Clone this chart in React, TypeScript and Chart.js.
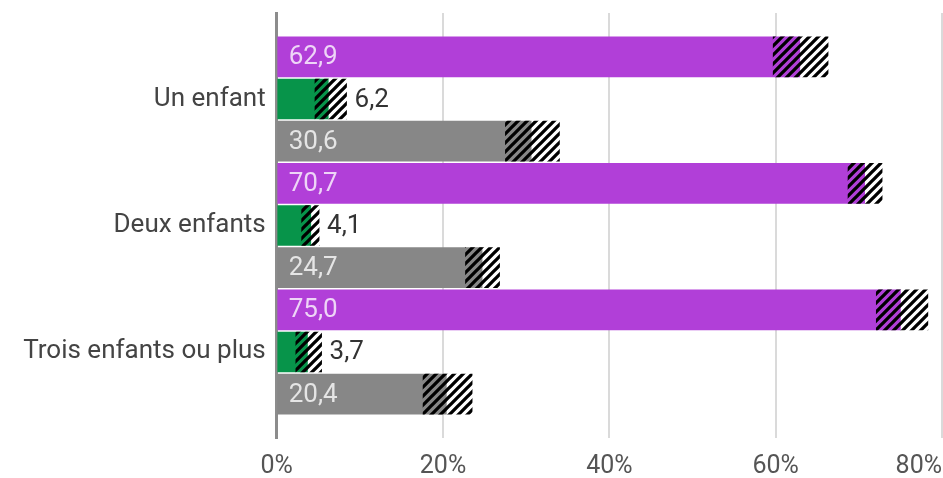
import React, { useEffect, useRef } from 'react';
import { Chart, registerables } from 'chart.js';

Chart.register(...registerables);

const categories = ['Un enfant', 'Deux enfants', 'Trois enfants ou plus'];
const seriesNames = ['Série 1', 'Série 2', 'Série 3'];
const purpleValues = [62.9, 70.7, 75.0];
const purpleLow = [59.7, 68.7, 72.1];
const purpleHigh = [66.3, 72.8, 78.3];
const greenValues = [6.2, 4.1, 3.7];
const greenLow = [4.6, 3.0, 2.3];
const greenHigh = [8.4, 5.1, 5.4];
const grayValues = [30.6, 24.7, 20.4];
const grayLow = [27.5, 22.7, 17.6];
const grayHigh = [34.0, 26.8, 23.5];
const xTickValues = [0, 20, 40, 60, 80];

const COLORS = ['#b13fd8', '#07944a', '#878787'];
const FONT = 'Roboto, "Noto Sans", sans-serif';
const LABEL_SIZE = 26;
const TICK_SIZE = 25;
const BAR = 40;

function fmt(v: number) {
  return v.toFixed(1).replace('.', ',');
}

function makeHatch(): CanvasPattern | string {
  const size = 9;
  const c = document.createElement('canvas');
  c.width = size;
  c.height = size;
  const g = c.getContext('2d');
  if (!g) return 'rgba(0,0,0,0.5)';
  g.strokeStyle = '#000';
  g.lineWidth = 3.3;
  g.lineCap = 'square';
  g.beginPath();
  g.moveTo(0, size);
  g.lineTo(size, 0);
  g.moveTo(-size / 2, size / 2);
  g.lineTo(size / 2, -size / 2);
  g.moveTo(size / 2, size + size / 2);
  g.lineTo(size + size / 2, size / 2);
  g.stroke();
  const p = g.createPattern(c, 'repeat');
  return p || 'rgba(0,0,0,0.5)';
}

export default function App() {
  const ref = useRef<HTMLCanvasElement | null>(null);

  useEffect(() => {
    if (!ref.current) return;
    const hatch = makeHatch();
    const offsets = [-1 / 3, 0, 1 / 3];
    const values = [purpleValues, greenValues, grayValues];
    const lows = [purpleLow, greenLow, grayLow];
    const highs = [purpleHigh, greenHigh, grayHigh];

    const barSets = values.map((vals, s) => ({
      label: seriesNames[s],
      data: categories.map((_, i) => ({ x: vals[i], y: i + offsets[s] })),
      backgroundColor: COLORS[s],
      borderWidth: 0,
      grouped: false,
      barThickness: BAR,
      order: 2,
    }));
    const hatchSets = values.map((_, s) => ({
      label: seriesNames[s] + ' IC',
      data: categories.map((_, i) => ({ x: [lows[s][i], highs[s][i]], y: i + offsets[s] })),
      backgroundColor: hatch,
      borderWidth: 0,
      grouped: false,
      barThickness: BAR,
      order: 1,
    }));

    const labelPlugin = {
      id: 'valueLabels',
      afterDatasetsDraw(chart: any) {
        const ctx = chart.ctx;
        const xs = chart.scales.x;
        const ys = chart.scales.y;
        ctx.save();
        ctx.font = `${LABEL_SIZE}px ${FONT}`;
        ctx.textBaseline = 'middle';
        ctx.textAlign = 'left';
        values.forEach((vals, s) => {
          vals.forEach((v, i) => {
            const y = ys.getPixelForValue(i + offsets[s]);
            if (s === 1) {
              ctx.fillStyle = '#333';
              ctx.fillText(fmt(v), xs.getPixelForValue(highs[s][i]) + 8, y + 1);
            } else {
              ctx.fillStyle = 'rgba(255,255,255,0.78)';
              ctx.fillText(fmt(v), chart.chartArea.left + 12, y + 1);
            }
          });
        });
        // x axis tick labels
        ctx.font = `${TICK_SIZE}px ${FONT}`;
        ctx.fillStyle = '#555';
        ctx.textAlign = 'center';
        const W = chart.width;
        xTickValues.forEach((t) => {
          const txt = t + '%';
          const w = ctx.measureText(txt).width;
          let x = xs.getPixelForValue(t);
          if (x + w / 2 > W - 1) x = W - 1 - w / 2;
          ctx.fillText(txt, x, chart.chartArea.bottom + 29);
        });
        ctx.restore();
      },
    };

    const chart = new Chart(ref.current, {
      type: 'bar',
      data: { datasets: [...hatchSets, ...barSets] as any },
      options: {
        indexAxis: 'y',
        animation: false,
        responsive: false,
        layout: { padding: { top: 13, right: 1, bottom: 40, left: 0 } },
        plugins: {
          legend: { display: false },
          tooltip: { enabled: false },
          title: { display: false },
        },
        scales: {
          x: {
            type: 'linear',
            min: 0,
            max: 80,
            afterBuildTicks: (s: any) => {
              s.ticks = xTickValues.map((v) => ({ value: v }));
            },
            afterFit: (s: any) => {
              s.paddingLeft = 0;
              s.paddingRight = 0;
            },
            ticks: { display: false },
            grid: {
              color: (c: any) => (c.index === 0 ? 'rgba(0,0,0,0)' : '#dadada'),
              lineWidth: 2,
              drawTicks: false,
            },
            border: { display: false },
          },
          y: {
            type: 'linear',
            reverse: true,
            offset: false,
            min: -0.68,
            max: 2.68,
            afterBuildTicks: (s: any) => {
              s.ticks = categories.map((_, i) => ({ value: i }));
            },
            afterFit: (s: any) => {
              s.width = 276.7;
              s.paddingTop = 0;
              s.paddingBottom = 0;
            },
            ticks: {
              callback: (v: any) => categories[Math.round(Number(v))] ?? '',
              font: { family: FONT, size: LABEL_SIZE },
              color: '#444',
              padding: 11,
            },
            grid: { display: false, drawTicks: false },
            border: { display: true, color: '#8c8c8c', width: 3 },
          },
        },
      },
      plugins: [labelPlugin],
    });
    return () => chart.destroy();
  }, []);

  return (
    <div style={{ position: 'absolute', left: 0, top: 0, width: 943, height: 478, background: '#fff' }}>
      <canvas ref={ref} width={943} height={478} />
    </div>
  );
}
